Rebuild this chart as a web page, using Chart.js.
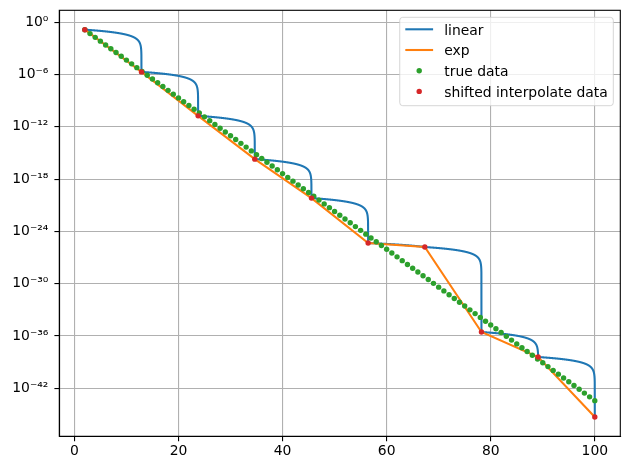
<!DOCTYPE html>
<html><head><meta charset="utf-8">
<script src="https://cdn.jsdelivr.net/npm/chart.js@4/dist/chart.umd.min.js"></script>
<style>html,body{margin:0;padding:0;background:#fff}canvas{display:block}</style>
</head><body>
<canvas id="c" width="630" height="470"></canvas>
<script>
// ---- data ----
const trueX = [2,3,4,5,6,7,8,9,10,11,12,13,14,15,16,17,18,19,20,21,22,23,24,25,26,27,28,29,30,31,32,33,34,35,36,37,38,39,40,41,42,43,44,45,46,47,48,49,50,51,52,53,54,55,56,57,58,59,60,61,62,63,64,65,66,67,68,69,70,71,72,73,74,75,76,77,78,79,80,81,82,83,84,85,86,87,88,89,90,91,92,93,94,95,96,97,98,99,100];
const trueY = [1.353e-1,4.979e-2,1.832e-2,6.738e-3,2.479e-3,9.119e-4,3.355e-4,1.234e-4,4.540e-5,1.670e-5,6.144e-6,2.260e-6,8.315e-7,3.059e-7,1.125e-7,4.140e-8,1.523e-8,5.603e-9,2.061e-9,7.583e-10,2.790e-10,1.026e-10,3.775e-11,1.389e-11,5.109e-12,1.880e-12,6.914e-13,2.543e-13,9.358e-14,3.442e-14,1.266e-14,4.659e-15,1.714e-15,6.305e-16,2.320e-16,8.533e-17,3.139e-17,1.155e-17,4.248e-18,1.563e-18,5.750e-19,2.115e-19,7.781e-20,2.863e-20,1.053e-20,3.874e-21,1.425e-21,5.243e-22,1.929e-22,7.095e-23,2.610e-23,9.603e-24,3.533e-24,1.300e-24,4.781e-25,1.759e-25,6.470e-26,2.380e-26,8.757e-27,3.221e-27,1.185e-27,4.360e-28,1.604e-28,5.901e-29,2.171e-29,7.987e-30,2.938e-30,1.081e-30,3.976e-31,1.463e-31,5.380e-32,1.979e-32,7.281e-33,2.679e-33,9.854e-34,3.625e-34,1.334e-34,4.907e-35,1.805e-35,6.639e-36,2.442e-36,8.985e-37,3.305e-37,1.216e-37,4.474e-38,1.646e-38,6.055e-39,2.227e-39,8.194e-40,3.014e-40,1.109e-40,4.080e-41,1.501e-41,5.521e-42,2.031e-42,7.472e-43,2.749e-43,1.011e-43,3.720e-44];
const knotX = [2,12.889,23.778,34.667,45.556,56.444,67.333,78.222,89.111,100];
const knotY = [1.4e-1,2.0e-6,1.8e-11,1.95e-16,6.6e-21,4.6e-26,1.6e-26,2.8e-36,3.8e-39,5.0e-46];
const seriesNames = ['linear','exp','true data','shifted interpolate data'];
const xTicks = [0,20,40,60,80,100];
const yTickExponents = [0,-6,-12,-18,-24,-30,-36,-42];

// ---- helpers ----
const pts = (xs, ys) => xs.map((x, i) => ({x: x, y: ys[i]}));
const SUP = {'0':'\u2070','1':'\u00b9','2':'\u00b2','3':'\u00b3','4':'\u2074','5':'\u2075','6':'\u2076','7':'\u2077','8':'\u2078','9':'\u2079','-':'\u207b'};
const sup = s => String(s).split('').map(c => SUP[c] || c).join('');
const FS = 13.9;
const LW = 2.08;

// "linear" series: drawn between its points with linear-in-value segments, mapped through the log scale
const linearCurve = {
  id: 'linearCurve',
  beforeDatasetsDraw(chart) {
    const ds = chart.data.datasets[0];
    const xs = chart.scales.x, ys = chart.scales.y, a = chart.chartArea, ctx = chart.ctx;
    ctx.save();
    ctx.beginPath(); ctx.rect(a.left, a.top, a.right - a.left, a.bottom - a.top); ctx.clip();
    ctx.beginPath();
    const d = ds.data;
    for (let i = 0; i < d.length - 1; i++) {
      const p0 = d[i], p1 = d[i + 1], N = 800;
      for (let k = 0; k <= N; k++) {
        const t = k / N;
        const px = xs.getPixelForValue(p0.x + (p1.x - p0.x) * t);
        const py = ys.getPixelForValue(p0.y + (p1.y - p0.y) * t);
        if (i === 0 && k === 0) ctx.moveTo(px, py); else ctx.lineTo(px, py);
      }
    }
    ctx.strokeStyle = ds.borderColor; ctx.lineWidth = ds.borderWidth;
    ctx.lineJoin = 'round'; ctx.lineCap = 'butt';
    ctx.stroke();
    ctx.restore();
  }
};

const frame = {
  id: 'frame',
  afterDatasetsDraw(chart) {
    const a = chart.chartArea, ctx = chart.ctx;
    ctx.save();
    ctx.strokeStyle = '#000'; ctx.lineWidth = 1.1;
    ctx.strokeRect(a.left, a.top, a.right - a.left, a.bottom - a.top);
    ctx.restore();
  }
};

const mplLegend = {
  id: 'mplLegend',
  afterDraw(chart) {
    const ctx = chart.ctx, a = chart.chartArea, ds = chart.data.datasets;
    ctx.save();
    ctx.font = FS + 'px "DejaVu Sans"';
    let tw = 0;
    ds.forEach(d => { tw = Math.max(tw, ctx.measureText(d.label).width); });
    const pad = 0.4 * FS, hl = 2 * FS, htp = 0.8 * FS;
    const w = pad + hl + htp + tw + pad, h = 88.4;
    const right = a.right - 7, top = a.top + 7, left = right - w;
    const r = 3;
    ctx.beginPath();
    ctx.moveTo(left + r, top);
    ctx.lineTo(right - r, top); ctx.quadraticCurveTo(right, top, right, top + r);
    ctx.lineTo(right, top + h - r); ctx.quadraticCurveTo(right, top + h, right - r, top + h);
    ctx.lineTo(left + r, top + h); ctx.quadraticCurveTo(left, top + h, left, top + h - r);
    ctx.lineTo(left, top + r); ctx.quadraticCurveTo(left, top, left + r, top);
    ctx.closePath();
    ctx.fillStyle = 'rgba(255,255,255,0.8)'; ctx.fill();
    ctx.strokeStyle = 'rgba(204,204,204,0.8)'; ctx.lineWidth = 1; ctx.stroke();
    ds.forEach((d, i) => {
      const cy = top + 12 + i * 20.7;
      const hx0 = left + pad, hx1 = hx0 + hl;
      if (d.legendLine) {
        ctx.beginPath(); ctx.moveTo(hx0, cy); ctx.lineTo(hx1, cy);
        ctx.strokeStyle = d.borderColor; ctx.lineWidth = LW; ctx.stroke();
      } else {
        ctx.beginPath(); ctx.arc((hx0 + hx1) / 2, cy, d.pointRadius, 0, Math.PI * 2);
        ctx.fillStyle = d.backgroundColor; ctx.fill();
      }
      ctx.fillStyle = '#000'; ctx.textBaseline = 'alphabetic'; ctx.textAlign = 'left';
      ctx.fillText(d.label, hx1 + htp, cy + 5.3);
    });
    ctx.restore();
  }
};

Chart.defaults.font.family = '"DejaVu Sans"';
Chart.defaults.font.size = FS;
Chart.defaults.color = '#000';

new Chart(document.getElementById('c'), {
  type: 'scatter',
  data: {
    datasets: [
      { label: seriesNames[0], data: pts(knotX, knotY), showLine: false, pointRadius: 0, pointHitRadius: 0,
        borderColor: '#1f77b4', backgroundColor: '#1f77b4', borderWidth: LW, order: 3, legendLine: true },
      { label: seriesNames[1], data: pts(knotX, knotY), showLine: true, pointRadius: 0, tension: 0,
        borderColor: '#ff7f0e', backgroundColor: '#ff7f0e', borderWidth: LW, order: 2, legendLine: true },
      { label: seriesNames[2], data: pts(trueX, trueY), showLine: false, pointRadius: 2.7, borderWidth: 0,
        backgroundColor: '#2ca02c', borderColor: '#2ca02c', order: 1 },
      { label: seriesNames[3], data: pts(knotX, knotY), showLine: false, pointRadius: 2.7, borderWidth: 0,
        backgroundColor: '#d62728', borderColor: '#d62728', order: 0 }
    ]
  },
  options: {
    responsive: false, animation: false, devicePixelRatio: 1,
    layout: { padding: { left: 0, right: 9.7, top: 10.3, bottom: 0 } },
    plugins: { legend: { display: false }, tooltip: { enabled: false } },
    scales: {
      x: {
        type: 'linear', min: -2.9, max: 104.9, bounds: 'data',
        afterBuildTicks: s => { s.ticks = xTicks.map(v => ({ value: v })); },
        afterFit: s => { s.height = 33.7; s.paddingLeft = 0; s.paddingRight = 0; },
        ticks: { padding: 2, callback: v => String(v), maxRotation: 0, autoSkip: false },
        grid: { color: '#b0b0b0', lineWidth: 1.1, drawTicks: true, tickLength: 4.9, tickColor: '#000', tickWidth: 1.1 },
        border: { display: true, color: '#000', width: 1.1 }
      },
      y: {
        type: 'logarithmic', min: Math.pow(10, -47.52), max: Math.pow(10, 1.37), bounds: 'data',
        afterBuildTicks: s => { s.ticks = yTickExponents.map(e => ({ value: Math.pow(10, e) })); },
        afterFit: s => { s.width = 59.3; s.paddingTop = 0; s.paddingBottom = 0; },
        ticks: { padding: 6, autoSkip: false, callback: v => '10' + sup(Math.round(Math.log10(v))) },
        grid: { color: '#b0b0b0', lineWidth: 1.1, drawTicks: true, tickLength: 4.9, tickColor: '#000', tickWidth: 1.1 },
        border: { display: true, color: '#000', width: 1.1 }
      }
    }
  },
  plugins: [linearCurve, frame, mplLegend]
});
</script>
</body></html>
